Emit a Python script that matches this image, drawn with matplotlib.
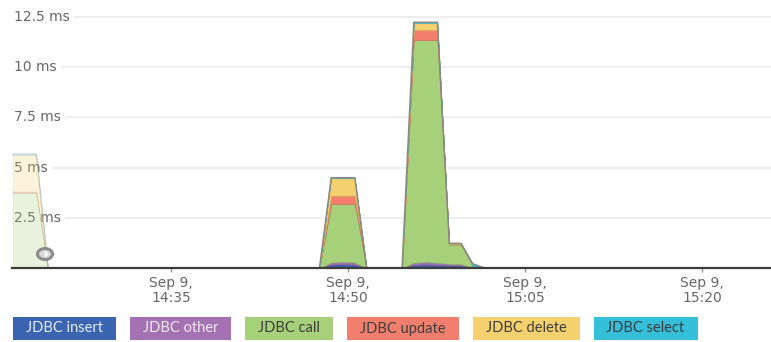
import numpy as np
import pandas as pd
import matplotlib
matplotlib.use("Agg")
import matplotlib.pyplot as plt
import matplotlib.dates as mdates
from matplotlib.patches import Rectangle, Ellipse
from matplotlib.colors import to_rgb

# samples (one per minute, zero runs in between are straight lines)
times = pd.to_datetime([
    "2015-09-09 14:21:35", "2015-09-09 14:22:35", "2015-09-09 14:23:35", "2015-09-09 14:24:35",
    "2015-09-09 14:47:35", "2015-09-09 14:48:35", "2015-09-09 14:49:35", "2015-09-09 14:50:35",
    "2015-09-09 14:51:35", "2015-09-09 14:54:35", "2015-09-09 14:55:35", "2015-09-09 14:56:35",
    "2015-09-09 14:57:35", "2015-09-09 14:58:35", "2015-09-09 14:59:35", "2015-09-09 15:00:35",
    "2015-09-09 15:01:35", "2015-09-09 15:26:35",
])
jdbc_insert = [0.00, 0.00, 0.00, 0, 0, 0.17, 0.19, 0.17, 0, 0, 0.16, 0.18, 0.16, 0.13, 0.12, 0.03, 0, 0]
jdbc_other  = [0.00, 0.00, 0.00, 0, 0, 0.10, 0.12, 0.10, 0, 0, 0.10, 0.12, 0.10, 0.08, 0.07, 0.00, 0, 0]
jdbc_call   = [3.75, 3.75, 3.75, 0, 0, 2.93, 2.89, 2.93, 0, 0, 11.09, 11.05, 11.09, 0.96, 0.98, 0.04, 0, 0]
jdbc_update = [0.05, 0.05, 0.05, 0, 0, 0.40, 0.40, 0.40, 0, 0, 0.50, 0.50, 0.50, 0.03, 0.03, 0.00, 0, 0]
jdbc_delete = [1.83, 1.83, 1.83, 0, 0, 0.87, 0.87, 0.87, 0, 0, 0.34, 0.34, 0.34, 0.02, 0.02, 0.00, 0, 0]
jdbc_select = [0.05, 0.05, 0.05, 0, 0, 0.03, 0.03, 0.03, 0, 0, 0.05, 0.05, 0.05, 0.01, 0.01, 0.14, 0, 0]

names = ["JDBC insert", "JDBC other", "JDBC call", "JDBC update", "JDBC delete", "JDBC select"]
colors = ["#3a63b0", "#a472b2", "#a6d17a", "#f27f6d", "#f4d06e", "#35bfd8"]
text_colors = ["#e4ebf7", "#f0e8f3", "#3d3d3d", "#3d3d3d", "#3d3d3d", "#3d3d3d"]
y_ticks = [2.5, 5, 7.5, 10, 12.5]

series = np.array([jdbc_insert, jdbc_other, jdbc_call, jdbc_update, jdbc_delete, jdbc_select])
total = series.sum(axis=0)
edge_colors = [tuple(c * 0.85 for c in to_rgb(col)) for col in colors]

W, H = 771, 342
fig = plt.figure(figsize=(W / 100, H / 100), dpi=100)
ax = fig.add_axes([12 / W, (H - 268) / H, 1 - 12 / W, (268 - 7) / H])

# left part of the window is still loading, drawn faded
n_fade = 4
polys = ax.stackplot(times[:n_fade], series[:, :n_fade], colors=colors, alpha=0.25, zorder=3)
polys += ax.stackplot(times[n_fade - 1:], series[:, n_fade - 1:], colors=colors, zorder=4)
for i, p in enumerate(polys):
    p.set_edgecolor(edge_colors[i % 6])
    p.set_linewidth(0.5 if i % 6 != 5 else 0.2)
ax.plot(times[:n_fade], total[:n_fade], color="#8a8a8a", lw=1, alpha=0.3, zorder=4)
ax.plot(times[n_fade - 1:], total[n_fade - 1:], color="#8c8680", lw=1, zorder=4.5)

ax.set_ylim(0, 13)
ax.set_xlim(pd.Timestamp("2015-09-09 14:21:32"), pd.Timestamp("2015-09-09 15:25:51"))

for v in y_ticks:
    ax.axhline(v, color="#ebebeb", lw=1.2, zorder=0)
    ax.text(0.002, v, f"{v:g} ms", transform=ax.get_yaxis_transform(), ha="left", va="center",
            fontsize=10, color="#666666", zorder=2,
            bbox=dict(boxstyle="square,pad=0.35", fc="white", ec="none"))

ax.set_yticks([])
for s in ["top", "right", "left"]:
    ax.spines[s].set_visible(False)
ax.spines["bottom"].set_color("#3c3c3c")
ax.spines["bottom"].set_linewidth(1.6)
ax.spines["bottom"].set_zorder(5)

ax.xaxis.set_major_locator(mdates.MinuteLocator(byminute=[5, 20, 35, 50]))
ax.xaxis.set_major_formatter(mdates.DateFormatter("%b %-d,\n%H:%M"))
ax.tick_params(axis="x", length=3, width=1, color="#999999", pad=3,
               labelsize=10, labelcolor="#666666")
for t in ax.get_xticklabels():
    t.set_linespacing(1.05)

# loading indicator
fig.patches.append(Ellipse((45 / W, (H - 254) / H), 15 / W, 11 / H, transform=fig.transFigure,
                           fc="#d9d9d9", ec="#8c8c8c", lw=2.2, zorder=10))
fig.patches.append(Ellipse((46 / W, (H - 254) / H), 4 / W, 6 / H, transform=fig.transFigure,
                           fc="#f4f4f4", ec="none", zorder=11))

# legend chips along the bottom
fig.canvas.draw()
renderer = fig.canvas.get_renderer()
x = 13
y0, y1 = H - 340, H - 317
pad, gap = 13, 14
for name, col, tcol in zip(names, colors, text_colors):
    t = fig.text((x + pad) / W, (y0 + y1) / 2 / H, name, ha="left", va="center",
                 fontsize=10.5, color=tcol, family="Lato", zorder=3)
    w = t.get_window_extent(renderer).width
    fig.patches.append(Rectangle((x / W, y0 / H), (w + 2 * pad) / W, (y1 - y0) / H,
                                 transform=fig.transFigure, fc=col, ec="none", zorder=2))
    x += w + 2 * pad + gap

fig.savefig("out.png", dpi=100)
